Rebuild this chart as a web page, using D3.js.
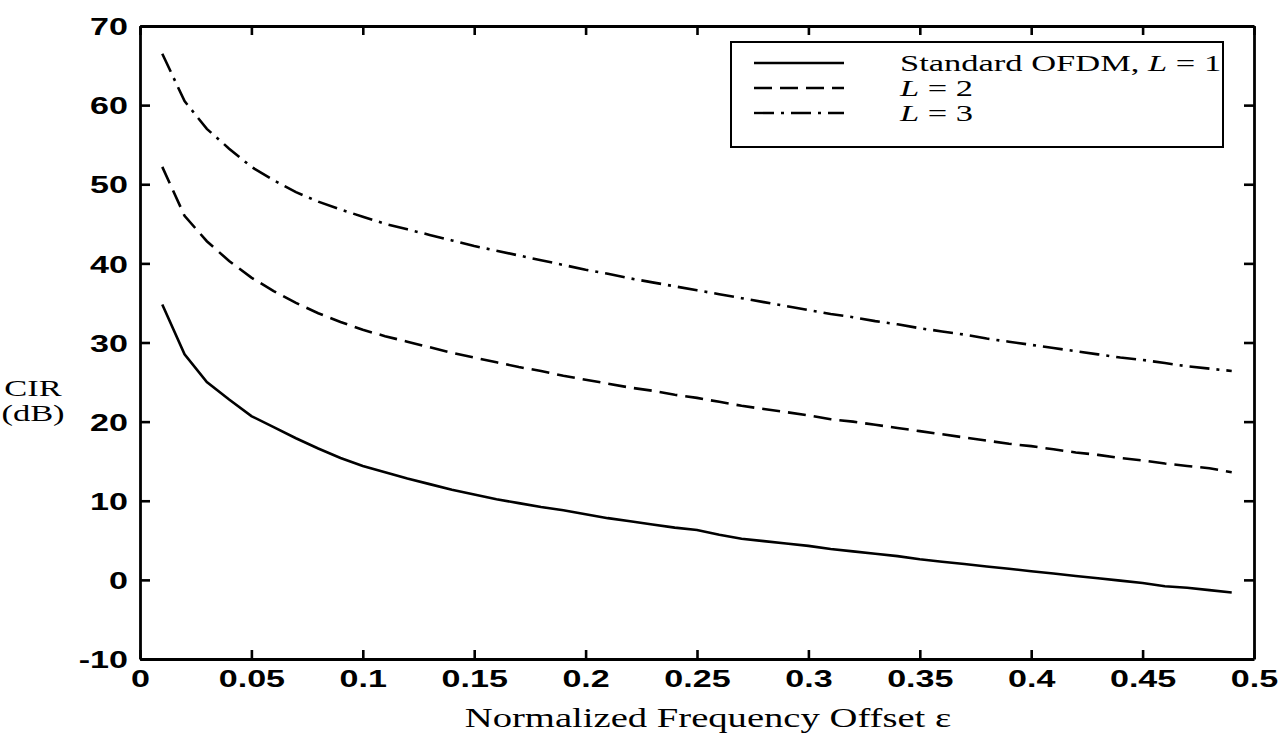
<!DOCTYPE html>
<html><head><meta charset="utf-8">
<script src="https://cdn.jsdelivr.net/npm/d3@7"></script>
<style>body{margin:0;background:#fff}svg{display:block}</style>
</head><body>
<svg id="c" width="1282" height="733"></svg>
<script>
const xValues = [0.01,0.02,0.03,0.04,0.05,0.06,0.07,0.08,0.09,0.10,0.11,0.12,0.13,0.14,0.15,0.16,0.17,0.18,0.19,0.20,0.21,0.22,0.23,0.24,0.25,0.26,0.27,0.28,0.29,0.30,0.31,0.32,0.33,0.34,0.35,0.36,0.37,0.38,0.39,0.40,0.41,0.42,0.43,0.44,0.45,0.46,0.47,0.48,0.49];
const cirL1 = [34.8,28.5,25.0,22.8,20.7,19.3,17.9,16.6,15.4,14.4,13.6,12.8,12.1,11.4,10.8,10.2,9.7,9.2,8.8,8.3,7.8,7.4,7.0,6.6,6.3,5.7,5.2,4.9,4.6,4.3,3.9,3.6,3.3,3.0,2.6,2.3,2.0,1.7,1.4,1.1,0.8,0.5,0.2,-0.1,-0.4,-0.8,-1.0,-1.3,-1.6];
const cirL2 = [52.2,46.0,42.8,40.3,38.2,36.5,35.0,33.7,32.6,31.6,30.8,30.1,29.4,28.7,28.1,27.5,26.9,26.4,25.8,25.3,24.8,24.3,23.9,23.4,23.0,22.5,22.0,21.6,21.2,20.8,20.3,20.0,19.6,19.2,18.8,18.4,18.0,17.6,17.2,16.9,16.5,16.1,15.8,15.4,15.1,14.7,14.4,14.1,13.6];
const cirL3 = [66.5,60.5,57.0,54.5,52.2,50.5,49.0,47.8,46.8,45.9,45.0,44.3,43.6,42.9,42.2,41.6,41.0,40.4,39.8,39.2,38.7,38.1,37.6,37.1,36.6,36.1,35.6,35.1,34.6,34.1,33.6,33.2,32.7,32.3,31.8,31.4,31.0,30.5,30.1,29.7,29.3,28.9,28.5,28.1,27.8,27.4,27.0,26.7,26.4];
const xTicks = [0,0.05,0.1,0.15,0.2,0.25,0.3,0.35,0.4,0.45,0.5];
const xTickLabels = ["0","0.05","0.1","0.15","0.2","0.25","0.3","0.35","0.4","0.45","0.5"];
const yTicks = [-10,0,10,20,30,40,50,60,70];
const yTickLabels = ["-10","0","10","20","30","40","50","60","70"];

const svg = d3.select("#c");
const L = 140, T = 26, R = 1254, B = 659;
const SX = 1.38;  // horizontal stretch of the scanned lettering
const SXT = 1.42; // stretch of tick labels
const SXL = 1.5;  // stretch of legend / y-label lettering
const x = d3.scaleLinear().domain([0,0.5]).range([L,R]);
const y = d3.scaleLinear().domain([-10,70]).range([B,T]);

const tickFont = "'Liberation Sans', Arial, sans-serif";
const serif = "'Liberation Serif', 'Times New Roman', serif";

// axes
const axB = svg.append("g").attr("transform",`translate(0,${B})`)
  .call(d3.axisBottom(x).tickValues(xTicks).tickFormat((d,i)=>xTickLabels[i]).tickSizeInner(-9).tickSizeOuter(0).tickPadding(15));
const axL = svg.append("g").attr("transform",`translate(${L},0)`)
  .call(d3.axisLeft(y).tickValues(yTicks).tickFormat((d,i)=>yTickLabels[i]).tickSizeInner(-10).tickSizeOuter(0).tickPadding(12));
const axT = svg.append("g").attr("transform",`translate(0,${T})`)
  .call(d3.axisTop(x).tickValues(xTicks).tickFormat("").tickSizeInner(-9).tickSizeOuter(0));
const axR = svg.append("g").attr("transform",`translate(${R},0)`)
  .call(d3.axisRight(y).tickValues(yTicks).tickFormat("").tickSizeInner(-10).tickSizeOuter(0));
[axB,axL,axT,axR].forEach(a=>{
  a.selectAll("path.domain").attr("stroke","#000").attr("stroke-width",2.8);
  a.selectAll(".tick line").attr("stroke","#000").attr("stroke-width",2.6);
  a.selectAll(".tick text").attr("fill","#000").attr("font-family",tickFont).attr("font-weight","bold").attr("font-size",24);
});
axB.selectAll(".tick text").attr("dy","0.55em").attr("transform",`scale(${SXT},1)`);
axL.selectAll(".tick text").attr("dy","0.36em").attr("x",-12/SXT).attr("transform",`scale(${SXT},1)`);

// lines
const line = d3.line().x((d,i)=>x(xValues[i])).y(d=>y(d));
const styles = [null,"18,8","20,7,3,7"];
[cirL1,cirL2,cirL3].forEach((s,k)=>{
  svg.append("path").datum(s).attr("d",line).attr("fill","none").attr("stroke","#000")
    .attr("stroke-width",2.6).attr("stroke-dasharray",styles[k]);
});

// legend
const lg = svg.append("g");
lg.append("rect").attr("x",731).attr("y",42).attr("width",492).attr("height",105)
  .attr("fill","#fff").attr("stroke","#000").attr("stroke-width",2);
const rowsY = [63,88,113];
rowsY.forEach((ry,k)=>{
  lg.append("line").attr("x1",754).attr("x2",844).attr("y1",ry).attr("y2",ry)
    .attr("stroke","#000").attr("stroke-width",2.4).attr("stroke-dasharray",styles[k]);
});
const lt = lg.append("text").attr("transform",`translate(900,${rowsY[0]+8}) scale(${SXL},1)`)
  .attr("font-family",serif).attr("font-size",23).attr("fill","#000");
lt.append("tspan").attr("x",0).attr("y",0).text("Standard OFDM, ");
lt.append("tspan").attr("font-style","italic").text("L");
lt.append("tspan").text(" = 1");
[1,2].forEach(k=>{
  lt.append("tspan").attr("x",0).attr("y",rowsY[k]-rowsY[0]).attr("font-style","italic").text("L");
  lt.append("tspan").text(" = " + (k+1));
});

// axis labels
const yl = svg.append("text").attr("transform",`translate(33,396) scale(${SXL},1)`)
  .attr("text-anchor","middle").attr("font-family",serif).attr("font-size",23).attr("fill","#000");
yl.append("tspan").attr("x",0).attr("y",0).text("CIR");
yl.append("tspan").attr("x",0).attr("y",25).text("(dB)");
svg.append("text").attr("transform",`translate(708,727) scale(${SX},1)`)
  .attr("text-anchor","middle").attr("font-family",serif).attr("font-size",28).attr("fill","#000")
  .text("Normalized Frequency Offset ε");
</script>
</body></html>
